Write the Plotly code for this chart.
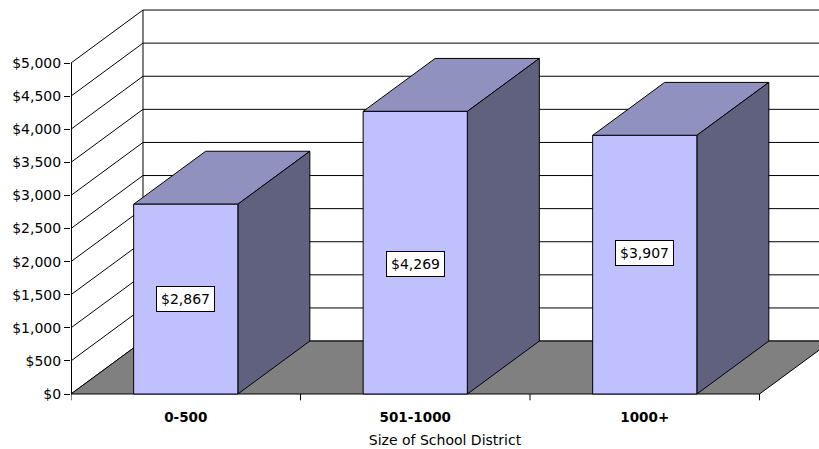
import plotly.graph_objects as go

# ---- data -------------------------------------------------------------
categories = ["0-500", "501-1000", "1000+"]
spending = [2867, 4269, 3907]
y_ticks = [0, 500, 1000, 1500, 2000, 2500, 3000, 3500, 4000, 4500, 5000]
y_tick_labels = ["$0", "$500", "$1,000", "$1,500", "$2,000", "$2,500",
                 "$3,000", "$3,500", "$4,000", "$4,500", "$5,000"]
x_title = "Size of School District"

# ---- 3-D look: depth offset expressed in axis units ---------------------
DX = 0.3137          # horizontal shift of the back plane (category units)
DY = 800             # vertical shift of the back plane (dollar units)
HALF = 0.227         # half width of a bar's front face
LABEL_FRAC = [0.5, 0.46, 0.545]

FRONT = "#C0C0FF"
TOP = "#9191C0"
SIDE = "#60607F"
FLOOR = "#808080"
EDGE = "black"

x_lo, x_hi = -0.5, len(categories) - 0.5
y_top = max(y_ticks)

fig = go.Figure()


def lines(xs, ys, width=1, color=EDGE):
    fig.add_trace(go.Scatter(x=xs, y=ys, mode="lines",
                             line=dict(color=color, width=width),
                             hoverinfo="skip", showlegend=False))


def face(xs, ys, color):
    fig.add_trace(go.Scatter(x=xs + [xs[0]], y=ys + [ys[0]], mode="lines",
                             fill="toself", fillcolor=color,
                             line=dict(color=EDGE, width=1),
                             hoverinfo="skip", showlegend=False))


# back wall gridlines
gx, gy = [], []
for v in y_ticks:
    gx += [x_lo + DX, x_hi + 2 * DX, None]
    gy += [v + DY, v + DY, None]
lines(gx, gy)

# side wall diagonals
sx, sy = [], []
for v in y_ticks:
    sx += [x_lo, x_lo + DX, None]
    sy += [v, v + DY, None]
lines(sx, sy)

# back wall left edge
lines([x_lo + DX, x_lo + DX], [DY, y_top + DY])

# floor
face([x_lo, x_hi, x_hi + DX, x_lo + DX], [0, 0, DY, DY], FLOOR)

# bars
for i, v in enumerate(spending):
    l, r = i - HALF, i + HALF
    face([l, r, r + DX, l + DX], [v, v, v + DY, v + DY], TOP)
    face([r, r + DX, r + DX, r], [0, DY, v + DY, v], SIDE)
    face([l, r, r, l], [0, 0, v, v], FRONT)

# value axis line and category boundary ticks
lines([x_lo, x_lo], [0, y_top], width=2)
tx, ty = [], []
for k in range(len(categories) + 1):
    b = x_lo + k
    tx += [b, b, None]
    ty += [0, -95, None]
lines(tx, ty)

# value labels
for i, v in enumerate(spending):
    fig.add_annotation(x=i, y=v * LABEL_FRAC[i], text=f"${v:,}",
                       showarrow=False, bgcolor="white",
                       bordercolor="black", borderwidth=1, borderpad=4,
                       font=dict(family="DejaVu Sans", size=14, color="black"))

px_per_unit = 331 / 5000
t_m, b_m = 8, 48
plot_h = 449 - t_m - b_m
y_max = (394 - t_m) / px_per_unit
y_min = y_max - plot_h / px_per_unit

fig.update_layout(
    width=819, height=449,
    margin=dict(l=71, r=0, t=t_m, b=b_m),
    paper_bgcolor="white", plot_bgcolor="white",
    font=dict(family="DejaVu Sans", size=12, color="black"),
    xaxis=dict(range=[x_lo, x_lo + 748 / 229.5], showgrid=False,
               zeroline=False, showline=False, ticks="",
               tickvals=list(range(len(categories))), ticktext=categories,
               tickfont=dict(size=13.5, weight="bold"),
               ticklabelstandoff=6,
               title=dict(text=x_title, font=dict(size=14), standoff=11)),
    yaxis=dict(range=[y_min, y_max], showgrid=False, zeroline=False,
               showline=False, ticks="outside", ticklen=6, tickcolor="black",
               tickvals=y_ticks, ticktext=y_tick_labels,
               tickfont=dict(size=14)),
)

fig.write_html("out.html")
